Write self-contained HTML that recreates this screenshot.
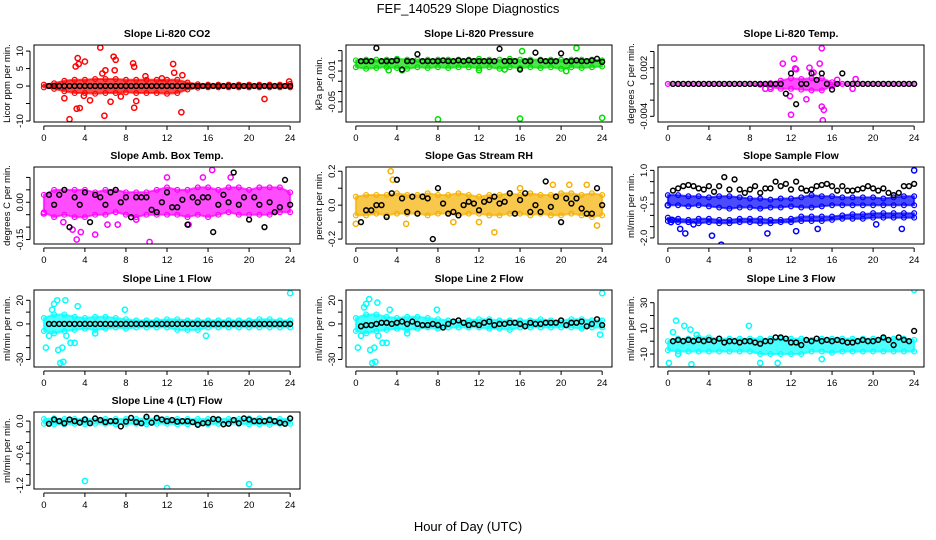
<!DOCTYPE html>
<html><head><meta charset="utf-8"><style>
body{margin:0;background:#fff}
svg{display:block;font-family:"Liberation Sans",sans-serif}
</style></head><body>
<svg id="c" width="936" height="540" viewBox="0 0 936 540">
<text x="468" y="13" text-anchor="middle" font-size="13">FEF_140529  Slope Diagnostics</text>
<text x="468" y="531" text-anchor="middle" font-size="13">Hour of Day (UTC)</text>
</svg>
<script>
// ---- data ----
const hoursEnv = [0,1,2,3,4,5,6,7,8,9,10,11,12,13,14,15,16,17,18,19,20,21,22,23,24];
const hoursBlack = [0.5,1,1.5,2,2.5,3,3.5,4,4.5,5,5.5,6,6.5,7,7.5,8,8.5,9,9.5,10,10.5,11,11.5,12,12.5,13,13.5,14,14.5,15,15.5,16,16.5,17,17.5,18,18.5,19,19.5,20,20.5,21,21.5,22,22.5,23,23.5,24];

const co2Lo = [-0.4,-0.8,-1.5,-2,-2,-2.2,-2,-2,-1.8,-2,-2,-2,-2.2,-2,-1,-0.5,-0.4,-0.4,-0.4,-0.4,-0.4,-0.4,-0.4,-0.4,-0.4];
const co2Hi = [0.4,0.8,1.5,1.8,1.8,2,2,2,1.8,1.8,1.8,1.8,1.8,1.8,1,0.5,0.4,0.4,0.4,0.4,0.4,0.4,0.4,0.4,0.6];
const co2OutH = [2.5,3.2,3.5,3.3,3.4,3.1,4.0,5.5,5.9,6.0,6.8,7.0,6.9,5.7,8.7,8.8,8.8,9.0,9.9,12.6,12.7,13.4,13.5,21.5,23.9,3.9,4.5,6.5,2.0,11.5,7.5];
const co2OutV = [-9.5,-6.5,-6.3,8,6.3,5.6,7,11,-8.5,4.5,8.4,7.5,4.5,3.6,6.5,5.5,-6.2,-4.3,2.8,6.3,3.8,-7.5,3.1,-3.7,1.3,-2.8,-4.1,-4.5,-3.5,2.2,-3];
const co2Black = [0,0,0,0,0,0,0,0,0,0,0,0,0,0,0,0,0,0,0,0,0,0,0,0,0,0,0,0,0,0,0,0,0,0,0,0,0,0,0,0,0,0,0,0,0,0,0,0];

const presLo = [-0.005,-0.007,-0.006,-0.005,-0.006,-0.007,-0.005,-0.006,-0.005,-0.006,-0.005,-0.005,-0.006,-0.005,-0.007,-0.005,-0.006,-0.005,-0.006,-0.005,-0.007,-0.005,-0.006,-0.005,-0.004];
const presHi = [0.004,0.005,0.005,0.005,0.006,0.005,0.005,0.005,0.005,0.005,0.005,0.005,0.006,0.005,0.005,0.006,0.005,0.005,0.005,0.005,0.005,0.005,0.005,0.005,0.004];
const presOutH = [8,16,24,21.5,16.2,4.5,14.5,20.5,3.2,12];
const presOutV = [-0.073,-0.072,-0.071,0.02,0.016,-0.009,-0.008,-0.01,-0.009,-0.009];
const presBlack = [0.003,0.003,0.003,0.02,0.003,0.003,0.003,0.004,-0.008,0.003,0.003,0.012,0.003,0.003,0.003,0.003,0.004,0.003,0.003,0.004,0.003,0.004,0.003,0.003,0.003,0.003,0.003,0.019,0.003,0.003,0.003,-0.008,0.003,0.003,0.014,0.004,0.003,0.003,0.003,0.013,0.003,0.003,0.004,0.003,0.003,0.004,0.006,0.002];

const tempLo = [0,0,0,0,0,0,0,0,0,-0.0001,-0.0004,-0.0006,-0.0006,-0.0007,-0.0008,-0.0008,-0.0003,0,0,0,0,0,0,0,0];
const tempHi = [0,0,0,0,0,0,0,0,0,0,0.0001,0.0004,0.0007,0.0006,0.0007,0.0007,0.0002,0,0,0,0,0,0,0,0];
const tempOutH = [11.2,12.3,12.4,12.5,12,14.8,15,15.1,15.2,15.0,14.2,13.8,13.5,11.9,16.5,18.3,10,9.5,18];
const tempOutV = [0.0025,0.0031,0.0019,0.0018,-0.0038,0.0025,0.0044,-0.0045,-0.0032,-0.0028,0.0014,0.002,-0.0019,-0.0015,0.0005,0.0006,-0.0006,-0.0006,-0.0006];
const tempBlack = [0,0,0,0,0,0,0,0,0,0,0,0,0,0,0,0,0,0,0,0,0,0,-0.0012,0.0013,-0.0025,0,0,0.0013,0.0005,0.0013,0,-0.0007,0,0.0013,0,0,0,0,0,0,0,0,0,0,0,0,0,0];

const ambLo = [-0.04,-0.06,-0.05,-0.06,-0.06,-0.05,-0.05,-0.04,-0.05,-0.06,-0.05,-0.05,-0.05,-0.05,-0.06,-0.05,-0.06,-0.05,-0.04,-0.05,-0.05,-0.05,-0.05,-0.04,-0.04];
const ambHi = [0.03,0.05,0.05,0.05,0.05,0.04,0.05,0.05,0.04,0.04,0.04,0.05,0.06,0.05,0.05,0.06,0.06,0.05,0.06,0.06,0.05,0.06,0.06,0.06,0.04];
const ambOutH = [3.2,3.6,5,10.3,16.4,12,15.5,1.9,0,2.8,9.0,14.1,7.2,18.2,6.2];
const ambOutV = [-0.15,-0.12,-0.13,-0.16,0.13,0.1,0.1,-0.08,-0.045,-0.11,-0.07,-0.09,-0.09,0.1,-0.09];
const ambBlack = [0.03,-0.01,0.03,0.05,-0.1,0.02,-0.01,0.04,-0.08,0.03,0.02,-0.01,0.04,0.05,0.0,0.02,-0.06,0.02,0.02,0.02,-0.03,-0.04,0.0,0.04,-0.02,-0.02,0.01,-0.09,0.02,0.0,0.02,0.02,-0.12,-0.01,0.03,0.0,0.12,-0.01,0.02,-0.07,0.02,-0.01,-0.1,0.0,-0.04,-0.02,0.09,-0.01];

const rhLo = [-0.06,-0.06,-0.05,-0.06,-0.05,-0.05,-0.05,-0.06,-0.05,-0.05,-0.06,-0.05,-0.05,-0.06,-0.06,-0.05,-0.05,-0.06,-0.05,-0.06,-0.06,-0.05,-0.06,-0.07,-0.06];
const rhHi = [0.05,0.06,0.06,0.06,0.07,0.06,0.06,0.07,0.06,0.06,0.07,0.06,0.05,0.06,0.06,0.07,0.06,0.07,0.06,0.06,0.07,0.07,0.06,0.07,0.06];
const rhOutH = [3.4,3.6,13.5,19.2,20.8,23.5,0,12,4.9,22.5,16,9.5];
const rhOutV = [0.2,0.15,-0.16,0.12,0.12,-0.12,-0.11,-0.1,-0.11,0.12,0.1,-0.1];
const rhBlack = [-0.1,-0.03,-0.03,0.0,0.0,-0.07,0.07,0.15,0.04,-0.04,0.05,-0.05,0.05,0.04,-0.2,0.1,0.01,-0.05,-0.04,-0.06,0.0,0.02,0.01,-0.03,0.02,0.03,0.05,0.01,0.02,0.07,-0.05,0.03,0.07,-0.04,0.0,-0.04,0.14,-0.01,0.05,-0.1,0.04,0.01,0.04,-0.02,-0.05,-0.05,0.1,0.0];

const flowUpLo = [-0.55,-0.55,-0.6,-0.55,-0.6,-0.65,-0.7,-0.65,-0.65,-0.7,-0.65,-0.65,-0.6,-0.65,-0.65,-0.6,-0.55,-0.55,-0.55,-0.55,-0.55,-0.55,-0.55,-0.55,-0.55];
const flowUpHi = [-0.1,-0.1,-0.15,-0.15,-0.2,-0.15,-0.15,-0.2,-0.25,-0.25,-0.3,-0.25,-0.25,-0.2,-0.1,-0.15,-0.15,-0.2,-0.2,-0.2,-0.2,-0.25,-0.2,-0.15,-0.15];
const flowLowLo = [-1.25,-1.3,-1.3,-1.35,-1.3,-1.35,-1.35,-1.3,-1.3,-1.35,-1.35,-1.3,-1.3,-1.25,-1.25,-1.25,-1.2,-1.15,-1.15,-1.15,-1.1,-1.1,-1.1,-1.1,-1.1];
const flowLowHi = [-1.1,-1.15,-1.2,-1.15,-1.15,-1.2,-1.2,-1.15,-1.15,-1.15,-1.2,-1.2,-1.15,-1.05,-1.05,-1.05,-1.05,-1.0,-0.95,-0.95,-0.9,-0.9,-0.9,-0.9,-0.9];
const flowOutH = [5.2,4.3,9.7,1.7,1.2,14.6,12.5,22.8,20.3,24,0,0.4,0.3,2.5];
const flowOutV = [-2.3,-1.9,-1.8,-1.8,-1.6,-1.6,-1.7,-1.6,-1.4,1.0,-0.55,-1.2,-1.3,-1.4];
const flowBlack = [0.1,0.2,0.3,0.35,0.3,0.2,0.15,0.3,0.05,0.3,0.7,0.15,0.6,0.15,0.0,0.15,0.3,0.0,0.2,0.2,0.5,0.3,0.4,0.15,0.5,0.2,0.1,0.15,0.3,0.35,0.4,0.3,0.1,0.3,0.1,0.1,0.15,0.2,0.3,0.2,0.1,0.2,0.0,-0.1,0.0,0.3,0.3,0.4];

const l1Lo = [-6,-8,-6,-5,-4,-5,-4,-3,-4,-3,-3,-3,-3,-5,-5,-5,-3,-3,-3,-3,-3,-3,-3,-3,-3];
const l1Hi = [5,8,8,6,5,6,6,5,4,3,3,3,4,4,3,3,3,3,3,3,3,4,4,3,3];
const l1OutH = [0.2,1.4,1.6,1.9,1.8,0.8,1.0,1.3,2.1,2.2,2.6,3.0,3.3,7.9,24,0.5,5,15.8];
const l1OutV = [-20,-22,-33,-32,-20,12,17,20,20,-10,-16,-16,15,12,26,-10,-8,-10];
const l1Black = [0,0,0,0,0,0,0,0,0,0,0,0,0,0,0,0,0,0,0,0,0,0,0,0,0,0,0,0,0,0,0,0,0,0,0,0,0,0,0,0,0,0,0,0,0,0,0,0];

const l2Lo = [-6,-8,-6,-5,-4,-5,-4,-3,-4,-3,-3,-3,-3,-4,-4,-5,-3,-3,-3,-3,-3,-3,-4,-3,-3];
const l2Hi = [5,8,8,6,5,6,6,5,4,3,3,3,4,4,3,3,3,3,4,3,3,4,4,3,3];
const l2OutH = [0.2,1.4,1.6,1.9,1.8,0.8,1.0,1.3,2.1,2.2,2.6,3.0,3.3,7.9,24,0.5,5,23.8];
const l2OutV = [-20,-22,-33,-32,-20,14,17,21,18,-10,-16,-16,12,12,26,-10,-8,-9];
const l2Black = [-2,-1,-1,0,1,1,0,1,2,0,2,0,-1,-1,0,-1,-3,0,2,3,1,-1,0,-1,1,2,-1,0,0,1,1,0,-2,1,0,0,1,1,1,3,-1,1,1,2,-2,0,4,-1];

const l3Lo = [-7,-8,-8,-8,-8,-8,-8,-8,-8,-10,-10,-10,-10,-10,-8,-8,-9,-8,-8,-8,-8,-8,-8,-8,-8];
const l3Hi = [0,2,2,3,3,2,2,2,2,2,2,2,2,2,1,2,2,2,2,2,2,2,2,2,1];
const l3OutH = [0.1,0.8,1.6,2.2,2.3,7.9,9,10.7,24,15,1,0.5,2.8];
const l3OutV = [-17,16,12,9,-18,12,-17,-17,40,-14,-10,7,5];
const l3Black = [0,1,0,1,0,1,0,1,0,2,-1,0,0,-1,0,0,-1,-2,0,0,3,3,2,-1,-1,-3,1,0,2,0,1,0,1,0,-1,-1,0,1,0,0,1,3,1,-3,3,1,0,8];

const l4Lo = [-0.05,-0.06,-0.06,-0.05,-0.06,-0.05,-0.05,-0.06,-0.05,-0.05,-0.06,-0.05,-0.05,-0.06,-0.06,-0.05,-0.06,-0.05,-0.05,-0.05,-0.06,-0.06,-0.07,-0.05,-0.05];
const l4Hi = [0.04,0.05,0.04,0.04,0.04,0.04,0.04,0.04,0.04,0.04,0.05,0.04,0.04,0.04,0.04,0.04,0.04,0.04,0.04,0.04,0.05,0.05,0.04,0.04,0.04];
const l4OutH = [4,12,20];
const l4OutV = [-1.12,-1.25,-1.18];
const l4Black = [-0.05,0.03,0.0,-0.04,0.03,0.0,-0.03,0.03,-0.04,0.05,0.02,-0.02,0.0,0.0,-0.1,-0.01,0.06,-0.02,-0.04,0.08,-0.03,0.06,0.03,0.0,0.02,-0.01,0.0,0.0,-0.02,-0.07,-0.04,-0.03,0.04,0.03,-0.06,-0.05,0.02,-0.04,0.05,0.03,0.0,0.0,0.0,0.02,0.0,-0.03,-0.05,0.05];

const xTicks = [0,4,8,12,16,20,24];

// ---- rendering ----
const NS = 'http://www.w3.org/2000/svg';
const svg = document.getElementById('c');
const colX = [34,346,658], rowY = [45,167,290,412], PW = 266, PH = 77;
function mk(tag, attrs, parent){const e=document.createElementNS(NS,tag);for(const k in attrs)e.setAttribute(k,attrs[k]);(parent||svg).appendChild(e);return e;}

const panels = [
 {id:'co2',title:'Slope Li-820 CO2',c:0,r:0,ymin:-10.29,ymax:11.74,ticks:[-10,-5,0,5,10],labs:['-10','','0','5','10'],ylab:'Licor ppm per min.',col:'#ff0000',bands:[[co2Lo,co2Hi]],oh:co2OutH,ov:co2OutV,bk:co2Black},
 {id:'pressure',title:'Slope Li-820 Pressure',c:1,r:0,ymin:-0.0764,ymax:0.024,ticks:[-0.0633,-0.05,-0.0367,-0.0233,-0.01,0.0033,0.0167],labs:['','-0.05','','','-0.01','',''],ylab:'kPa per min.',col:'#00dd00',bands:[[presLo,presHi]],oh:presOutH,ov:presOutV,bk:presBlack},
 {id:'temp',title:'Slope Li-820 Temp.',c:2,r:0,ymin:-0.0047,ymax:0.0048,ticks:[-0.004,-0.002,0,0.002,0.004],labs:['-0.004','','','0.002',''],ylab:'degrees C per min.',col:'#ff00ff',bands:[[tempLo,tempHi]],oh:tempOutH,ov:tempOutV,bk:tempBlack},
 {id:'ambtemp',title:'Slope Amb. Box Temp.',c:0,r:1,ymin:-0.168,ymax:0.142,ticks:[-0.15,-0.1,-0.05,0,0.05,0.1],labs:['-0.15','','','0.00','',''],ylab:'degrees C per min.',col:'#ff00ff',bands:[[ambLo,ambHi]],oh:ambOutH,ov:ambOutV,bk:ambBlack},
 {id:'rh',title:'Slope Gas Stream RH',c:1,r:1,ymin:-0.229,ymax:0.225,ticks:[-0.2,-0.1,0,0.1,0.2],labs:['-0.2','','0.0','','0.2'],ylab:'percent per min.',col:'#f5b000',bands:[[rhLo,rhHi]],oh:rhOutH,ov:rhOutV,bk:rhBlack},
 {id:'sampleflow',title:'Slope Sample Flow',c:2,r:1,ymin:-2.27,ymax:1.15,ticks:[-2,-1.5,-1,-0.5,0,0.5,1],labs:['-2.0','','','-0.5','','','1.0'],ylab:'ml/min per min.',col:'#0000ff',bands:[[flowUpLo,flowUpHi],[flowLowLo,flowLowHi]],oh:flowOutH,ov:flowOutV,bk:flowBlack},
 {id:'line1',title:'Slope Line 1 Flow',c:0,r:2,ymin:-36.4,ymax:28.7,ticks:[-30,-20,-10,0,10,20],labs:['-30','','','0','','20'],ylab:'ml/min per min.',col:'#00ffff',bands:[[l1Lo,l1Hi]],oh:l1OutH,ov:l1OutV,bk:l1Black},
 {id:'line2',title:'Slope Line 2 Flow',c:1,r:2,ymin:-36.4,ymax:28.7,ticks:[-30,-20,-10,0,10,20],labs:['-30','','','0','','20'],ylab:'ml/min per min.',col:'#00ffff',bands:[[l2Lo,l2Hi]],oh:l2OutH,ov:l2OutV,bk:l2Black},
 {id:'line3',title:'Slope Line 3 Flow',c:2,r:2,ymin:-20.1,ymax:39.9,ticks:[-20,-10,0,10,20,30],labs:['','-10','','10','','30'],ylab:'ml/min per min.',col:'#00ffff',bands:[[l3Lo,l3Hi]],oh:l3OutH,ov:l3OutV,bk:l3Black},
 {id:'line4',title:'Slope Line 4 (LT) Flow',c:0,r:3,ymin:-1.27,ymax:0.17,ticks:[-1.2,-1.0,-0.8,-0.6,-0.4,-0.2,0],labs:['-1.2','','','-0.6','','','0.0'],ylab:'ml/min per min.',col:'#00ffff',bands:[[l4Lo,l4Hi]],oh:l4OutH,ov:l4OutV,bk:l4Black}
];

panels.forEach(p=>{
  const x0=colX[p.c], y0=rowY[p.r];
  const sx = h => x0 + (h + 0.96) * PW / 25.92;
  const sy = v => y0 + (p.ymax - v) / (p.ymax - p.ymin) * PH;
  const g = mk('g',{});
  
  
  const clipId='clip-'+p.id;
  const cp = mk('clipPath',{id:clipId},g); mk('rect',{x:x0,y:y0,width:PW,height:PH},cp);
  const pg = mk('g',{'clip-path':'url(#'+clipId+')'},g);
  p.bands.forEach(([lo,hi])=>{
    let d='M'+hoursEnv.map((h,i)=>sx(h).toFixed(1)+','+sy(hi[i]).toFixed(1)).join('L');
    d+='L'+hoursEnv.slice().reverse().map((h,j)=>{const i=hoursEnv.length-1-j;return sx(h).toFixed(1)+','+sy(lo[i]).toFixed(1);}).join('L')+'Z';
    const band = mk('path',{d:d,fill:p.col,stroke:p.col,'stroke-width':2,'stroke-linejoin':'round','fill-opacity':0.7,'stroke-opacity':0.7},pg);
    
    
    hoursEnv.forEach((h,i)=>{
      [lo[i],hi[i]].forEach(v=>{
        const c = mk('circle',{cx:sx(h),cy:sy(v),r:2.4,fill:'none',stroke:p.col,'stroke-width':1.2},pg);
        
        
      });
    });
  });
  p.oh.forEach((h,i)=>{
    const c = mk('circle',{cx:sx(h),cy:sy(p.ov[i]),r:2.6,fill:'none',stroke:p.col,'stroke-width':1.5},pg);
    
    
  });
  p.bk.forEach((v,i)=>{
    const c = mk('circle',{cx:sx(hoursBlack[i]),cy:sy(v),r:2.4,fill:'none',stroke:'#000','stroke-width':1.5},pg);
    
    
  });
  const box = mk('rect',{x:x0,y:y0,width:PW,height:PH,fill:'none',stroke:'#000','stroke-width':1},g);
  
  
  const t = mk('text',{x:x0+PW/2,y:y0-8,'text-anchor':'middle','font-size':10.5,'font-weight':'bold'},g);
  t.textContent=p.title;
  
  
  const by = y0+PH+4;
  mk('line',{x1:sx(0),x2:sx(24),y1:by,y2:by,stroke:'#000'},g);
  xTicks.forEach(h=>{
    mk('line',{x1:sx(h),x2:sx(h),y1:by,y2:by+4,stroke:'#000'},g);
    const tl = mk('text',{x:sx(h),y:by+15,'text-anchor':'middle','font-size':9.5},g);
    tl.textContent=h;
    
    
  });
  const ax = x0-4;
  mk('line',{x1:ax,x2:ax,y1:sy(p.ticks[0]),y2:sy(p.ticks[p.ticks.length-1]),stroke:'#000'},g);
  p.ticks.forEach((v,i)=>{
    mk('line',{x1:ax-4,x2:ax,y1:sy(v),y2:sy(v),stroke:'#000'},g);
    if(p.labs[i]){
      const yl = mk('text',{x:0,y:0,'text-anchor':'middle','font-size':9.5,transform:'translate('+(ax-7)+','+sy(v)+') rotate(-90)'},g);
      yl.textContent=p.labs[i];
      
      
    }
  });
  const ylab = mk('text',{x:0,y:0,'text-anchor':'middle','font-size':9.5,transform:'translate('+(x0-24)+','+(y0+PH/2)+') rotate(-90)'},g);
  ylab.textContent=p.ylab;
  
  
});
</script>
</body></html>
